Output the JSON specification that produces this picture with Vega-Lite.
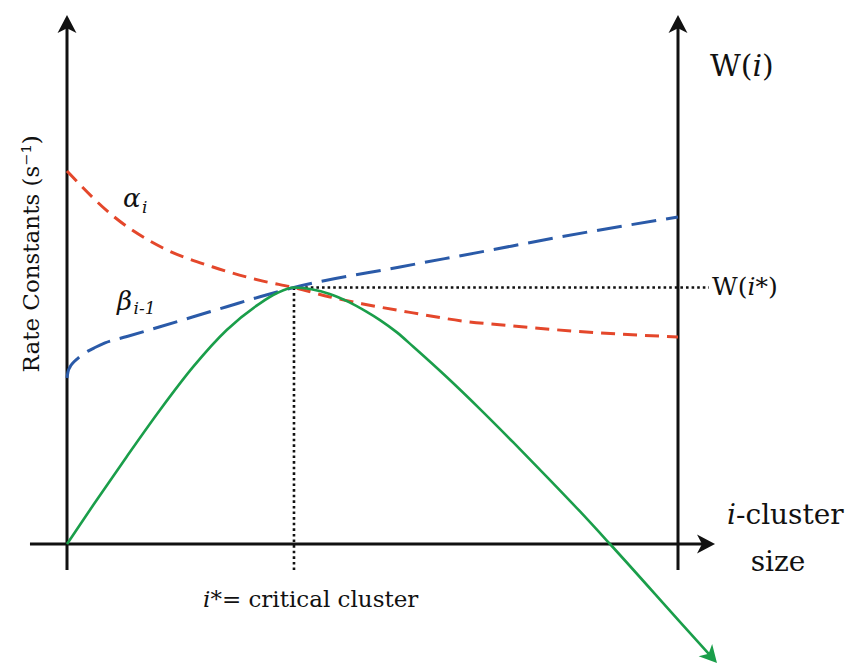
{
  "$schema": "https://vega.github.io/schema/vega-lite/v6.json",
  "width": 849,
  "height": 666,
  "padding": 0,
  "autosize": {"type": "none"},
  "background": "white",
  "config": {"view": {"stroke": null}},
  "datasets": {
    "axes": [
      {"x": 0, "y": -1.014, "x2": 0, "y2": 20.43},
      {"x": 10, "y": -1.014, "x2": 10, "y2": 20.43},
      {"x": -0.606, "y": 0, "x2": 10.52, "y2": 0}
    ],
    "dotted": [
      {"x": 3.715, "y": 10, "x2": 3.715, "y2": -1.13},
      {"x": 3.715, "y": 10, "x2": 10.507, "y2": 10}
    ],
    "alpha": [
      {"x": 0, "y": 14.54}, {"x": 0.753, "y": 12.79}, {"x": 1.571, "y": 11.54},
      {"x": 2.389, "y": 10.8}, {"x": 3.208, "y": 10.25}, {"x": 3.715, "y": 10.0},
      {"x": 4.305, "y": 9.63}, {"x": 4.845, "y": 9.36}, {"x": 5.663, "y": 9.01},
      {"x": 6.481, "y": 8.69}, {"x": 7.299, "y": 8.5}, {"x": 8.28, "y": 8.3},
      {"x": 10, "y": 8.07}
    ],
    "beta": [
      {"x": 0, "y": 6.47}, {"x": 0.016, "y": 6.71}, {"x": 0.049, "y": 6.9},
      {"x": 0.098, "y": 7.06}, {"x": 0.164, "y": 7.21}, {"x": 0.245, "y": 7.37},
      {"x": 0.344, "y": 7.52}, {"x": 0.458, "y": 7.66}, {"x": 0.622, "y": 7.84},
      {"x": 0.982, "y": 8.09}, {"x": 1.522, "y": 8.47},
      {"x": 2.067, "y": 8.86}, {"x": 2.614, "y": 9.25}, {"x": 3.159, "y": 9.64},
      {"x": 3.715, "y": 10.0}, {"x": 5.45, "y": 10.8}, {"x": 6.759, "y": 11.38},
      {"x": 8.069, "y": 11.97}, {"x": 10, "y": 12.75}
    ],
    "w": [
      {"x": 0, "y": 0}, {"x": 0.43, "y": 1.52}, {"x": 0.977, "y": 3.404},
      {"x": 1.522, "y": 5.224}, {"x": 2.067, "y": 6.912}, {"x": 2.614, "y": 8.343},
      {"x": 3.159, "y": 9.384}, {"x": 3.432, "y": 9.774}, {"x": 3.715, "y": 10.0},
      {"x": 4.0, "y": 9.93}, {"x": 4.3, "y": 9.75}, {"x": 4.6, "y": 9.45},
      {"x": 4.9, "y": 9.06}, {"x": 5.123, "y": 8.73}, {"x": 5.4, "y": 8.25},
      {"x": 5.668, "y": 7.69},
      {"x": 6.214, "y": 6.51}, {"x": 6.76, "y": 5.26}, {"x": 7.305, "y": 3.96},
      {"x": 7.85, "y": 2.63}, {"x": 8.396, "y": 1.27}, {"x": 8.887, "y": 0},
      {"x": 10.142, "y": -3.33}, {"x": 10.556, "y": -4.42}
    ],
    "arrowUp": [{"x": 0, "y": 20.62}, {"x": 10, "y": 20.62}],
    "arrowRight": [{"x": 10.606, "y": 0}],
    "arrowW": [{"x": 10.638, "y": -4.639}],
    "title": [{"x": -0.573, "y": 11.31, "t": "Rate Constants (s⁻¹)"}],
    "reg25": [
      {"x": 10.556, "y": 9.708, "t": "W("},
      {"x": 11.268, "y": 9.708, "t": "*)"}
    ],
    "ital25": [
      {"x": 11.137, "y": 9.708, "t": "i"}
    ],
    "reg23": [
      {"x": 2.347, "y": -2.456, "t": "*= critical cluster"}
    ],
    "ital23": [
      {"x": 2.226, "y": -2.456, "t": "i"}
    ],
    "reg30": [
      {"x": 10.524, "y": 18.246, "t": "W("},
      {"x": 11.376, "y": 18.246, "t": ")"}
    ],
    "ital30": [
      {"x": 11.219, "y": 18.246, "t": "i"}
    ],
    "reg28": [
      {"x": 10.949, "y": 0.78, "t": "-cluster"},
      {"x": 11.19, "y": -1.053, "t": "size"}
    ],
    "ital28": [
      {"x": 10.802, "y": 0.78, "t": "i"}
    ],
    "greek": [
      {"x": 0.917, "y": 13.14, "t": "α"},
      {"x": 0.818, "y": 9.12, "t": "β"}
    ],
    "sub": [
      {"x": 1.227, "y": 12.9, "t": "i"},
      {"x": 1.09, "y": 8.967, "t": "i-1"}
    ]
  },
  "encoding": {
    "x": {"field": "x", "type": "quantitative", "axis": null,
          "scale": {"domain": [0, 10], "range": [67, 678], "nice": false, "zero": false}},
    "y": {"field": "y", "type": "quantitative", "axis": null,
          "scale": {"domain": [0, 10], "range": [544, 287.5], "nice": false, "zero": false}}
  },
  "layer": [
    {
      "data": {"name": "axes"},
      "mark": {"type": "rule", "color": "#111111", "strokeWidth": 3},
      "encoding": {"x2": {"field": "x2"}, "y2": {"field": "y2"}}
    },
    {
      "data": {"name": "dotted"},
      "mark": {"type": "rule", "color": "#111111", "strokeWidth": 2.6, "strokeDash": [2.6, 3]},
      "encoding": {"x2": {"field": "x2"}, "y2": {"field": "y2"}}
    },
    {
      "data": {"name": "alpha"},
      "mark": {"type": "line", "color": "#e4472b", "strokeWidth": 3, "strokeDash": [14, 8], "interpolate": "monotone"},
      "encoding": {}
    },
    {
      "data": {"name": "beta"},
      "mark": {"type": "line", "color": "#2a5aa8", "strokeWidth": 3, "strokeDash": [25, 10], "interpolate": "monotone"},
      "encoding": {}
    },
    {
      "data": {"name": "w"},
      "mark": {"type": "line", "color": "#1a9e4a", "strokeWidth": 2.6, "interpolate": "monotone"},
      "encoding": {}
    },
    {
      "data": {"name": "arrowUp"},
      "mark": {"type": "point", "shape": "M0,0L-2,-1.05L-1.45,0L-2,1.05Z", "filled": true, "opacity": 1, "color": "#111111", "size": 324, "angle": 270}
    },
    {
      "data": {"name": "arrowRight"},
      "mark": {"type": "point", "shape": "M0,0L-2,-1.05L-1.45,0L-2,1.05Z", "filled": true, "opacity": 1, "color": "#111111", "size": 324, "angle": 0}
    },
    {
      "data": {"name": "arrowW"},
      "mark": {"type": "point", "shape": "M0,0L-2,-1.05L-1.45,0L-2,1.05Z", "filled": true, "opacity": 1, "color": "#1a9e4a", "size": 300, "angle": 48}
    },
    {
      "data": {"name": "title"},
      "mark": {"type": "text", "font": "DejaVu Serif", "fontSize": 23, "angle": 270, "align": "center", "baseline": "middle", "color": "#111111"},
      "encoding": {"text": {"field": "t"}}
    },
    {
      "data": {"name": "reg25"},
      "mark": {"type": "text", "font": "DejaVu Serif", "fontSize": 25, "align": "left", "baseline": "alphabetic", "color": "#111111"},
      "encoding": {"text": {"field": "t"}}
    },
    {
      "data": {"name": "ital25"},
      "mark": {"type": "text", "font": "DejaVu Serif", "fontStyle": "italic", "fontSize": 25, "align": "left", "baseline": "alphabetic", "color": "#111111"},
      "encoding": {"text": {"field": "t"}}
    },
    {
      "data": {"name": "reg23"},
      "mark": {"type": "text", "font": "DejaVu Serif", "fontSize": 23, "align": "left", "baseline": "alphabetic", "color": "#111111"},
      "encoding": {"text": {"field": "t"}}
    },
    {
      "data": {"name": "ital23"},
      "mark": {"type": "text", "font": "DejaVu Serif", "fontStyle": "italic", "fontSize": 23, "align": "left", "baseline": "alphabetic", "color": "#111111"},
      "encoding": {"text": {"field": "t"}}
    },
    {
      "data": {"name": "reg30"},
      "mark": {"type": "text", "font": "DejaVu Serif", "fontSize": 30, "align": "left", "baseline": "alphabetic", "color": "#111111"},
      "encoding": {"text": {"field": "t"}}
    },
    {
      "data": {"name": "ital30"},
      "mark": {"type": "text", "font": "DejaVu Serif", "fontStyle": "italic", "fontSize": 30, "align": "left", "baseline": "alphabetic", "color": "#111111"},
      "encoding": {"text": {"field": "t"}}
    },
    {
      "data": {"name": "reg28"},
      "mark": {"type": "text", "font": "DejaVu Serif", "fontSize": 28, "align": "left", "baseline": "alphabetic", "color": "#111111"},
      "encoding": {"text": {"field": "t"}}
    },
    {
      "data": {"name": "ital28"},
      "mark": {"type": "text", "font": "DejaVu Serif", "fontStyle": "italic", "fontSize": 28, "align": "left", "baseline": "alphabetic", "color": "#111111"},
      "encoding": {"text": {"field": "t"}}
    },
    {
      "data": {"name": "greek"},
      "mark": {"type": "text", "font": "DejaVu Serif", "fontStyle": "italic", "fontSize": 26, "align": "left", "baseline": "alphabetic", "color": "#111111"},
      "encoding": {"text": {"field": "t"}}
    },
    {
      "data": {"name": "sub"},
      "mark": {"type": "text", "font": "DejaVu Serif", "fontStyle": "italic", "fontSize": 17, "align": "left", "baseline": "alphabetic", "color": "#111111"},
      "encoding": {"text": {"field": "t"}}
    }
  ]
}
